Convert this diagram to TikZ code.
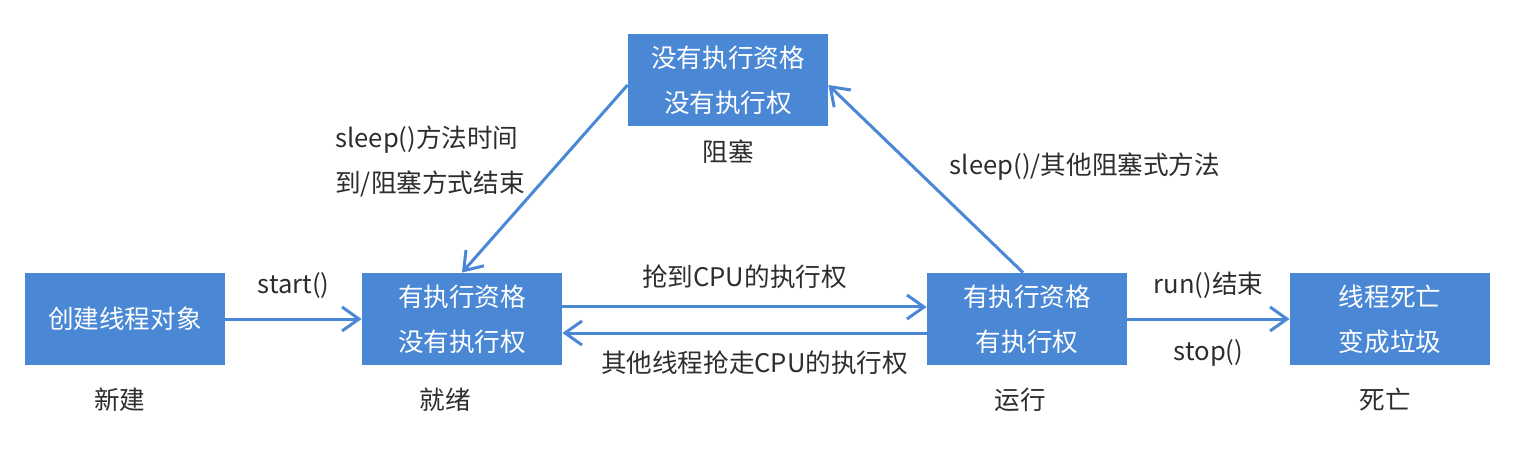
\documentclass[tikz,border=0pt]{standalone}
\usepackage{fontspec}
\setmainfont{Noto Sans CJK SC}
\usetikzlibrary{arrows.meta}
\definecolor{boxblue}{RGB}{74,136,214}
\definecolor{txtgray}{RGB}{45,45,45}
\begin{document}
\begin{tikzpicture}[x=0.5pt,y=-0.5pt,line join=round,>={Straight Barb[length=8.5pt,width=12pt]}]
	\tikzset{every node/.style={font=\fontsize{12.8}{22.5}\selectfont,text=txtgray},
		state/.style={fill=boxblue,minimum width=100pt,minimum height=46pt,align=center,text=white,inner sep=0pt},
		link/.style={->,draw=boxblue,line width=1.5pt}}
	\useasboundingbox (0,0) rectangle (1523,460);
	% states
	\node[state] (new) at (125,319) {创建线程对象};
	\node[state] (ready) at (462,319) {有执行资格\\没有执行权};
	\node[state] (run) at (1027,319) {有执行资格\\有执行权};
	\node[state] (dead) at (1390,319) {线程死亡\\变成垃圾};
	\node[state] (block) at (728,80) {没有执行资格\\没有执行权};
	% state names
	\node (newname) at (120,400) {新建};
	\node (readyname) at (445,400) {就绪};
	\node (runname) at (1020,400) {运行};
	\node (deadname) at (1385,400) {死亡};
	\node (blockname) at (728,152) {阻塞};
	% transitions
	\draw[link] (new.east)--(ready.west) node[midway,above=6pt] {start()};
	\draw[link] ([yshift=6pt]ready.east)--([yshift=6pt]run.west) node[midway,above=5pt] {抢到CPU的执行权};
	\draw[link] ([yshift=-7pt]run.west)--([yshift=-7pt]ready.east) node[midway,below=5pt,xshift=5pt] {其他线程抢走CPU的执行权};
	\draw[link] (run.east)--(dead.west) node[midway,above=6pt] {run()结束} node[midway,below=6pt] {stop()};
	\draw[link] ([xshift=-2pt]run.north)--([yshift=-2.5pt]block.east);
	\draw[link] ([yshift=-2.5pt]block.west)--(ready.north);
	\node (sleepin) at (1085,167) {sleep()/其他阻塞式方法};
	\node[align=left] (sleepout) at (430,161) {sleep()方法时间\\到/阻塞方式结束};
\end{tikzpicture}
\end{document}
